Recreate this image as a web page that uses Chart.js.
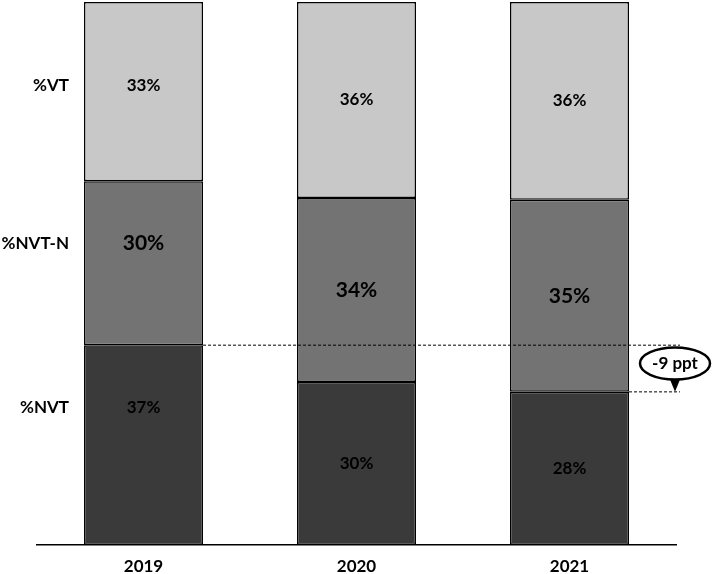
<!DOCTYPE html>
<html>
<head>
<meta charset="utf-8">
<script src="https://cdn.jsdelivr.net/npm/chart.js@4/dist/chart.umd.min.js"></script>
<style>
  html, body { margin: 0; padding: 0; background: #fff; }
  #wrap { width: 714px; height: 574px; position: relative; }
</style>
</head>
<body>
<div id="wrap"><canvas id="myChart"></canvas></div>
<script>
(() => {
  'use strict'

  // categories and series (share of total, %)
  var years = ['2019', '2020', '2021']
  var series_names = ['%NVT', '%NVT-N', '%VT']
  var nvt = [36.8, 30.0, 28.2]
  var nvt_n = [30.2, 33.9, 35.4]
  var vt = [33.0, 36.1, 36.4]

  var fills = ['#3a3a3a', '#737373', '#c8c8c8']
  var font_family = 'Lato, "Open Sans", sans-serif'

  // where the row names sit on the left (in % of the stack)
  var row_label_at = [25.4, 55.6, 84.7]

  const labelsPlugin = {
    id: 'labelsPlugin',
    afterDatasetsDraw(chart) {
      const c = chart.ctx
      const y = chart.scales.y
      c.save()
      c.fillStyle = '#000'
      c.textBaseline = 'middle'

      // row names
      c.textAlign = 'right'
      c.font = 'bold 17px ' + font_family
      series_names.forEach((name, i) => {
        c.fillText(name, 69, y.getPixelForValue(row_label_at[i]))
      })

      // value labels in every segment
      c.textAlign = 'center'
      chart.data.datasets.forEach((ds, di) => {
        const meta = chart.getDatasetMeta(di)
        meta.data.forEach((bar, i) => {
          var py
          if (i === 0) py = y.getPixelForValue(row_label_at[di])
          else py = (bar.y + bar.base) / 2
          c.font = (di === 1 ? 'bold 21px ' : 'bold 17px ') + font_family
          c.fillText(Math.round(ds.data[i]) + '%', bar.x, py)
        })
      })

      // change of %NVT first to last year
      const first = chart.getDatasetMeta(0).data[0]
      const last = chart.getDatasetMeta(0).data[2]
      const xEnd = chart.chartArea.right + 4
      c.strokeStyle = '#000'
      c.lineWidth = 1
      c.setLineDash([3, 2])
      c.beginPath()
      c.moveTo(first.x + first.width / 2, first.y)
      c.lineTo(xEnd, first.y)
      c.moveTo(last.x + last.width / 2, last.y)
      c.lineTo(xEnd, last.y)
      c.stroke()
      c.setLineDash([])

      const ex = 675, ey = (first.y + last.y) / 2 - 5
      c.fillStyle = '#fff'
      c.lineWidth = 2.5
      c.beginPath()
      c.ellipse(ex, ey, 35, 16, 0, 0, Math.PI * 2)
      c.fill()
      c.stroke()

      // arrow head down to last year's level
      c.fillStyle = '#000'
      c.beginPath()
      c.moveTo(ex - 5, ey + 16)
      c.lineTo(ex + 5, ey + 16)
      c.lineTo(ex, last.y)
      c.closePath()
      c.fill()

      const diff = Math.round(nvt[2] - nvt[0])
      c.font = 'bold 17px ' + font_family
      c.fillText(diff + ' ppt', ex, ey)
      c.restore()
    }
  }

  const ctx = document.getElementById('myChart')
  // eslint-disable-next-line no-unused-vars
  const myChart = new Chart(ctx, {
    type: 'bar',
    data: {
      labels: years,
      datasets: [nvt, nvt_n, vt].map((d, i) => ({
        label: series_names[i],
        data: d,
        backgroundColor: fills[i],
        borderColor: '#000',
        borderWidth: 1.5,
        borderSkipped: false,
        categoryPercentage: 1,
        barPercentage: 0.559
      }))
    },
    options: {
      responsive: true,
      maintainAspectRatio: false,
      animation: false,
      layout: { padding: { left: 37, right: 38, top: 2, bottom: 0 } },
      scales: {
        x: {
          stacked: true,
          grid: { display: false },
          border: { display: true, color: '#000', width: 1.5 },
          ticks: {
            color: '#000',
            padding: 3,
            font: { family: font_family, size: 17, weight: 'bold' }
          },
          afterFit(scale) { scale.height = 29 }
        },
        y: {
          stacked: true,
          display: false,
          min: 0,
          max: 100
        }
      },
      plugins: {
        legend: { display: false },
        tooltip: { enabled: false }
      }
    },
    plugins: [labelsPlugin]
  })
})()
</script>
</body>
</html>
